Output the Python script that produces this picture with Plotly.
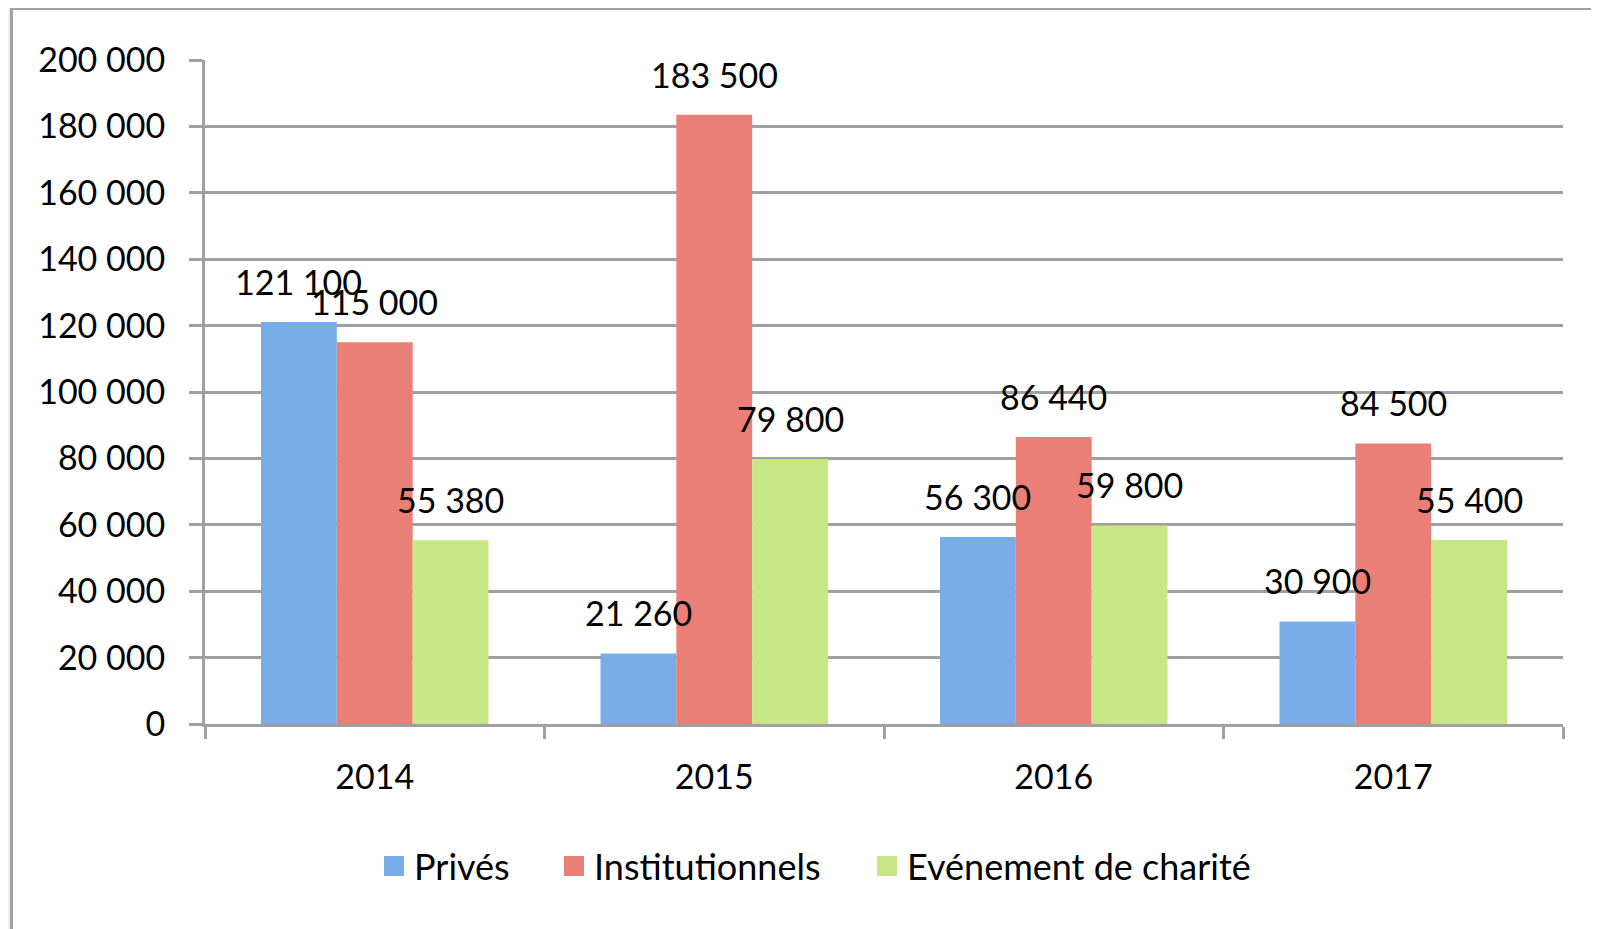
import plotly.graph_objects as go

years = ["2014", "2015", "2016", "2017"]
series_names = ["Privés", "Institutionnels", "Evénement de charité"]
prives = [121100, 21260, 56300, 30900]
institutionnels = [115000, 183500, 86440, 84500]
evenement = [55380, 79800, 59800, 55400]
colors = ["#79adea", "#ea7f78", "#c9e685"]
y_ticks = [0, 20000, 40000, 60000, 80000, 100000, 120000, 140000, 160000, 180000, 200000]

# page body has an 8px margin: figure coords = screen coords - 8
OFF = 8
W, H = 1599 - OFF, 929 - OFF
ML, MT = 205 - OFF, 60 - OFF
MR = W - (1563 - OFF)
MB = H - (724 - OFF)
PW, PH = W - ML - MR, H - MT - MB
BARGAP = 0.33
FONT = "Lato"
FS = 34
LEG_FS = 36
GRAY = "#a0a0a0"
LEGEND_LEFT = [374, 554, 867]  # screen px of each legend box left edge
LEGEND_Y = 866


def fmt(v):
    return f"{v:,}".replace(",", " ")


def px_x(p):
    return (p - OFF - ML) / PW


def px_y(p):
    return 1 - (p - OFF - MT) / PH


fig = go.Figure()
all_series = [prives, institutionnels, evenement]
legend_ids = ["legend", "legend2", "legend3"]
for name, vals, col, lg in zip(series_names, all_series, colors, legend_ids):
    fig.add_trace(go.Bar(x=years, y=vals, name=name, marker=dict(color=col, line=dict(width=0)),
                         showlegend=False, legendgroup=name, hoverinfo="x+y"))
    fig.add_trace(go.Scatter(x=[None], y=[None], mode="markers", name=name, legendgroup=name,
                             legend=lg,
                             marker=dict(symbol="square", size=16, color=col,
                                         line=dict(color=col, width=4))))

bw = (1 - BARGAP) / len(all_series)
for j, vals in enumerate(all_series):
    for i, v in enumerate(vals):
        fig.add_annotation(x=i + (j - (len(all_series) - 1) / 2) * bw, y=v, text=fmt(v),
                           showarrow=False, yanchor="bottom", yshift=18,
                           font=dict(family=FONT, size=FS, color="black"))

# top gridline at the range edge
fig.add_shape(type="line", xref="paper", yref="y", x0=0, x1=1, y0=y_ticks[-1], y1=y_ticks[-1],
              line=dict(color=GRAY, width=3), layer="below")

fig.add_shape(type="rect", xref="paper", yref="paper", layer="below",
              x0=px_x(11.5), x1=px_x(1599 + 20), y0=px_y(929 + 20), y1=px_y(8.5),
              line=dict(color=GRAY, width=3), fillcolor="white")

leg_common = dict(orientation="h", xanchor="left", yanchor="middle", y=px_y(LEGEND_Y),
                  font=dict(family=FONT, size=LEG_FS, color="black"), bgcolor="rgba(0,0,0,0)",
                  borderwidth=0, itemwidth=30, itemsizing="trace")

fig.update_layout(
    width=W, height=H,
    margin=dict(l=ML, r=MR, t=MT, b=MB),
    paper_bgcolor="#eef0ea", plot_bgcolor="white",
    barmode="group", bargap=BARGAP, bargroupgap=0,
    separators=", ",
    font=dict(family=FONT, size=FS, color="black"),
    legend=dict(x=px_x(LEGEND_LEFT[0]), **leg_common),
    legend2=dict(x=px_x(LEGEND_LEFT[1]), **leg_common),
    legend3=dict(x=px_x(LEGEND_LEFT[2]), **leg_common),
    showlegend=True,
)
fig.update_xaxes(type="category", showline=True, linecolor=GRAY, linewidth=3,
                 ticks="outside", tickson="boundaries", ticklen=12, tickwidth=3, tickcolor=GRAY,
                 showgrid=False, ticklabelstandoff=21, tickfont=dict(size=FS))
fig.update_yaxes(range=[0, 200000], tickvals=y_ticks, ticktext=[fmt(v) for v in y_ticks],
                 showline=True, linecolor=GRAY, linewidth=3,
                 ticks="outside", ticklen=13, tickwidth=3, tickcolor=GRAY,
                 showgrid=True, gridcolor=GRAY, gridwidth=3, zeroline=False,
                 ticklabelstandoff=17, tickfont=dict(size=FS))

fig.write_html("out.html")
